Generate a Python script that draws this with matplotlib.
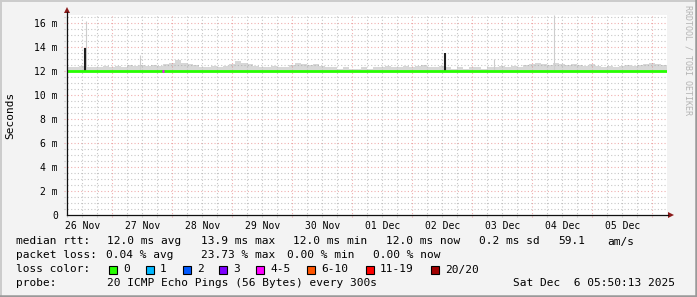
import matplotlib

matplotlib.use("Agg")
import matplotlib.pyplot as plt
import numpy as np
from matplotlib.lines import Line2D
from matplotlib.patches import Polygon, Rectangle

W, H = 697, 297
MONO = "DejaVu Sans Mono"

# time in days since 26 Nov 00:00, graph ends Sat Dec 6 05:50:13
t_start = 21013 / 86400
t_end = t_start + 10

day_labels = ["26 Nov", "27 Nov", "28 Nov", "29 Nov", "30 Nov",
              "01 Dec", "02 Dec", "03 Dec", "04 Dec", "05 Dec"]
ytick_vals = [0, 2, 4, 6, 8, 10, 12, 14, 16]
ytick_labels = ["0", "2 m", "4 m", "6 m", "8 m", "10 m", "12 m", "14 m", "16 m"]

# upper edge of the smoke (ms), one value per 0.1 day from graph start
smoke_top = [
    12.3, 12.3, 12.4, 12.3, 12.3, 12.3, 12.4, 12.3, 12.4, 12.3,
    12.5, 12.4, 12.5, 12.4, 12.5, 12.4, 12.6, 12.7, 12.9, 12.7,
    12.6, 12.5, 12.3, 12.3, 12.4, 12.3, 12.4, 12.6, 12.8, 12.7,
    12.6, 12.4, 12.3, 12.3, 12.4, 12.3, 12.3, 12.5, 12.7, 12.6,
    12.5, 12.6, 12.4, 12.3, 12.3, 12.2, 12.3, 12.2, 12.2, 12.3,
    12.2, 12.3, 12.3, 12.4, 12.3, 12.3, 12.4, 12.3, 12.4, 12.5,
    12.3, 12.3, 12.4, 12.3, 12.2, 12.3, 12.2, 12.3, 12.3, 12.2,
    12.3, 12.3, 12.4, 12.3, 12.4, 12.3, 12.5, 12.6, 12.7, 12.6,
    12.5, 12.7, 12.6, 12.5, 12.6, 12.5, 12.4, 12.6, 12.4, 12.3,
    12.4, 12.3, 12.4, 12.5, 12.4, 12.5, 12.6, 12.7, 12.6, 12.5,
]
median_ms = 12.0

# single outlier pings
spike_days = [0.560, 1.460, 7.360, 8.360]
spike_tops = [16.2, 13.3, 13.0, 16.7]
# dark bars
bar_days = [0.543, 6.543]
bar_tops = [13.9, 13.5]
# one sample with 4-5 lost pings
loss_mark_day = 1.843

stats_rtt = ["median rtt:", "12.0 ms avg", "13.9 ms max", "12.0 ms min",
             "12.0 ms now", "0.2 ms sd", "59.1", "am/s"]
stats_rtt_x = [16, 107, 201, 293, 386, 479, 558, 607]
stats_loss = ["packet loss:", "0.04 % avg", "23.73 % max", "0.00 % min", "0.00 % now"]
stats_loss_x = [16, 106, 201, 287, 373]
loss_names = ["0", "1", "2", "3", "4-5", "6-10", "11-19", "20/20"]
loss_colors = ["#26ff00", "#00b8ff", "#0059ff", "#7e00ff", "#ff00ff",
               "#ff5500", "#ff0000", "#a10000"]
loss_box_x = [109, 146, 183, 219, 256, 307, 366, 431]


def fx(x):
    return x / W


def fy(y):
    return 1 - y / H


fig = plt.figure(figsize=(W / 100, H / 100), dpi=100, facecolor="#f3f3f3")
ax = fig.add_axes([fx(67), fy(215), 600 / W, 200 / H], facecolor="white")
ax.set_xlim(t_start, t_end)
ax.set_ylim(0, 200 / 12)
for s in ax.spines.values():
    s.set_visible(False)

# grid, rrdtool style
minor_c = (0.56, 0.56, 0.56, 0.5)
major_c = (0.87, 0.31, 0.31, 0.45)
dash = (0, (1, 2))
for v in np.arange(0.5, 17, 0.5):
    if v % 2:
        ax.axhline(v, xmin=-3 / 600, color=minor_c, lw=0.8, ls=dash, clip_on=False)
for v in ytick_vals[1:]:
    ax.axhline(v, xmin=-3 / 600, color=major_c, lw=0.8, ls=dash, clip_on=False)
for d in np.arange(0.25, 10.5, 0.25):
    if t_start < d < t_end and d % 1:
        ax.axvline(d, ymin=-2 / 200, color=minor_c, lw=0.8, ls=dash, clip_on=False)
for d in range(1, 11):
    ax.axvline(d, ymin=-2 / 200, color=major_c, lw=0.8, ls=dash, clip_on=False)

# smoke
smoke_t = t_start + 0.1 * np.arange(len(smoke_top) + 1)
ax.fill_between(smoke_t, median_ms, smoke_top + smoke_top[-1:], step="post",
                color="#d8d8d8", lw=0)
ax.vlines(spike_days, median_ms, spike_tops, color="#cdcdcd", lw=0.8)
ax.vlines(bar_days, median_ms, bar_tops, color="#1e1e1e", lw=1.5)
ax.hlines(median_ms, t_start, t_end, color=loss_colors[0], lw=2.0)
ax.hlines(median_ms, loss_mark_day - 0.009, loss_mark_day + 0.009, color=loss_colors[4], lw=2.0)

ax.set_xticks([d + 0.5 for d in range(10)], day_labels)
ax.set_yticks(ytick_vals, ytick_labels)
ax.tick_params(axis="x", length=0, pad=4.5, labelsize=7)
ax.tick_params(axis="y", length=0, pad=6.5, labelsize=7)
for lab in ax.get_xticklabels() + ax.get_yticklabels():
    lab.set_family(MONO)

# axes with arrows
fig.add_artist(Line2D([fx(67), fx(668)], [fy(215), fy(215)], color="#101010", lw=0.9))
fig.add_artist(Line2D([fx(67), fx(67)], [fy(215), fy(12)], color="#101010", lw=0.9))
fig.add_artist(Polygon([(fx(668), fy(212)), (fx(674), fy(215)), (fx(668), fy(218))],
                       closed=True, color="#8b1a1a", lw=0))
fig.add_artist(Polygon([(fx(64), fy(13)), (fx(67), fy(7)), (fx(70), fy(13))],
                       closed=True, color="#8b1a1a", lw=0))

fig.text(fx(10), fy(115), "Seconds", rotation=90, family=MONO, fontsize=8,
         ha="center", va="center")
fig.text(fx(688), fy(5), "RRDTOOL / TOBI OETIKER", rotation=-90, family=MONO,
         fontsize=6, color="#b4b4b4", ha="center", va="top")

# legend block
for txt, x in zip(stats_rtt, stats_rtt_x):
    fig.text(fx(x), fy(244.5), txt, family=MONO, fontsize=8, va="baseline")
for txt, x in zip(stats_loss, stats_loss_x):
    fig.text(fx(x), fy(258.5), txt, family=MONO, fontsize=8, va="baseline")
fig.text(fx(16), fy(272.5), "loss color:", family=MONO, fontsize=8, va="baseline")
for name, c, x in zip(loss_names, loss_colors, loss_box_x):
    fig.add_artist(Rectangle((fx(x), fy(273.5)), 7.5 / W, 7.5 / H, facecolor=c,
                             edgecolor="black", lw=0.8))
    fig.text(fx(x + 14), fy(272.5), name, family=MONO, fontsize=8, va="baseline")
fig.text(fx(16), fy(286.5), "probe:", family=MONO, fontsize=8, va="baseline")
fig.text(fx(107), fy(286.5), "20 ICMP Echo Pings (56 Bytes) every 300s", family=MONO,
         fontsize=8, va="baseline")
fig.text(fx(513), fy(286.5), "Sat Dec  6 05:50:13 2025", family=MONO, fontsize=8,
         va="baseline")

# image frame
fig.add_artist(Line2D([0, 1], [fy(0.8), fy(0.8)], color="#cbcbcb", lw=1.4))
fig.add_artist(Line2D([fx(0.8), fx(0.8)], [0, 1], color="#cbcbcb", lw=1.4))
fig.add_artist(Line2D([0, 1], [fy(295.8), fy(295.8)], color="#999999", lw=1.8))
fig.add_artist(Line2D([fx(695.8), fx(695.8)], [0, 1], color="#999999", lw=1.8))

fig.savefig("out.png", dpi=100, facecolor=fig.get_facecolor())
